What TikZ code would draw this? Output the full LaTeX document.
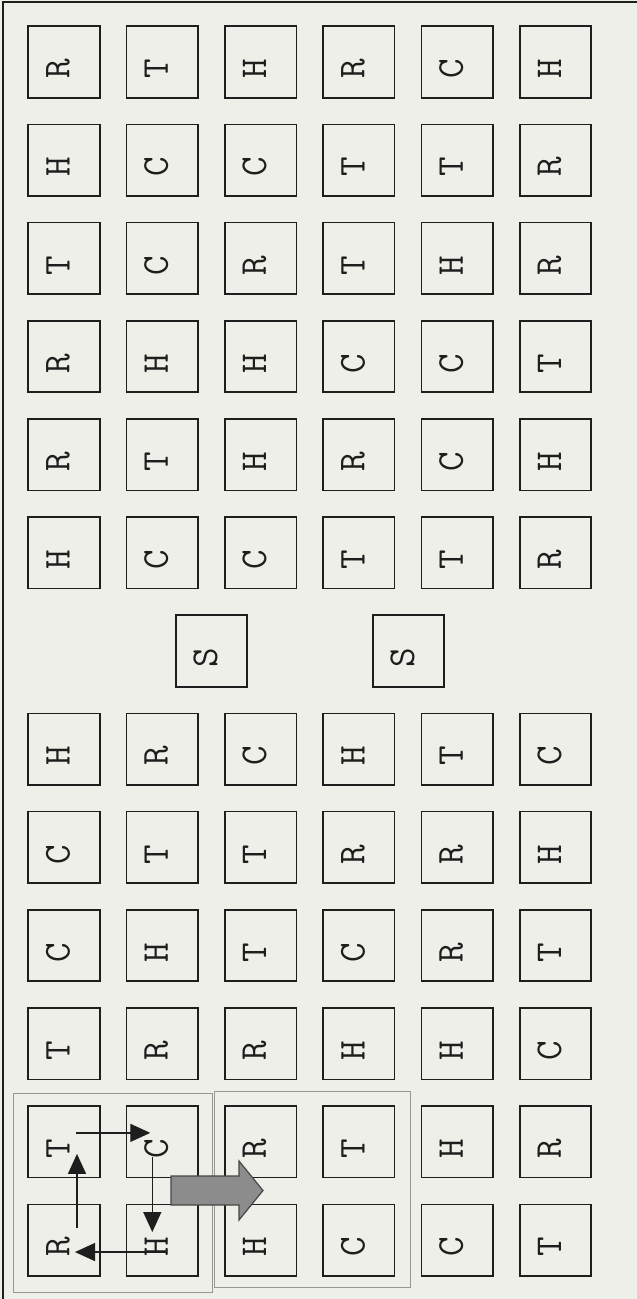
\documentclass[tikz,border=0pt]{standalone}
\usepackage{fontspec}
\usetikzlibrary{arrows.meta,calc}
\definecolor{bg}{RGB}{239,239,233}
\definecolor{ink}{RGB}{30,30,30}
\definecolor{grp}{RGB}{150,150,150}
\definecolor{bigfill}{RGB}{140,140,140}
\definecolor{bigline}{RGB}{70,70,70}
\tikzset{
  tile/.style={draw=ink,line width=1.6pt,minimum size=71.5pt,inner sep=0pt},
  letter/.style={rotate=90,font=\ttfamily\fontsize{38}{38}\selectfont,inner sep=0pt,text=ink},
  grpbox/.style={draw=grp,line width=1pt},
  flow/.style={draw=ink,line width=1.3pt,-{Triangle[length=20pt,width=18pt]}},
  bigarrow/.style={fill=bigfill,draw=bigline,line width=1.2pt},
}
\begin{document}
\begin{tikzpicture}[x=1pt,y=-1pt]
\fill[bg] (0,0) rectangle (637,1299);
\useasboundingbox (0,0) rectangle (637,1299);
\draw[ink,line width=2pt] (3,1299) -- (3,2) -- (637,2);
% group outlines
\draw[grpbox] (13,1093) rectangle (212,1292);
\draw[grpbox] (214,1091) rectangle (410,1287);
% tiles
\foreach \r/\row in {1/{R,T,H,R,C,H},2/{H,C,C,T,T,R},3/{T,C,R,T,H,R},4/{R,H,H,C,C,T},5/{R,T,H,R,C,H},6/{H,C,C,T,T,R},8/{H,R,C,H,T,C},9/{C,T,T,R,R,H},10/{C,H,T,C,R,T},11/{T,R,R,H,H,C},12/{T,C,R,T,H,R},13/{R,H,H,C,C,T}} {
  \foreach \l [count=\c] in \row {
    \node[tile] (b-\r-\c) at ({64+98.3*(\c-1)},{62+98.17*(\r-1)}) {};
    \node[letter] (t-\r-\c) at ($(b-\r-\c)+(-6,7)$) {\l};
  }
}
% S tiles
\node[tile] (s-1) at (211.5,651) {};
\node[letter] (ts-1) at ($(s-1)+(-6,7)$) {S};
\node[tile] (s-2) at (408.5,651) {};
\node[letter] (ts-2) at ($(s-2)+(-6,7)$) {S};
% cycle arrows
\coordinate (p1) at ($(b-12-1)+(12,-9)$);
\coordinate (q1) at ($(b-12-2)+(-12,-9)$);
\coordinate (p2) at ($(b-12-2)+(-10,15)$);
\coordinate (q2) at ($(b-13-2)+(-10,-8)$);
\coordinate (p3) at ($(b-13-2)+(5,12)$);
\coordinate (q3) at ($(b-13-1)+(11,12)$);
\coordinate (p4) at ($(b-13-1)+(13,-12)$);
\coordinate (q4) at ($(b-12-1)+(13,12)$);
\draw[flow] (p1) -- (q1);
\draw[flow] (p2) -- (q2);
\draw[flow] (p3) -- (q3);
\draw[flow] (p4) -- (q4);
% big arrow
\draw[bigarrow] (171,1176) -- (239,1176) -- (239,1161) -- (263,1190.5) -- (239,1220) -- (239,1205) -- (171,1205) -- cycle;
\end{tikzpicture}
\end{document}
